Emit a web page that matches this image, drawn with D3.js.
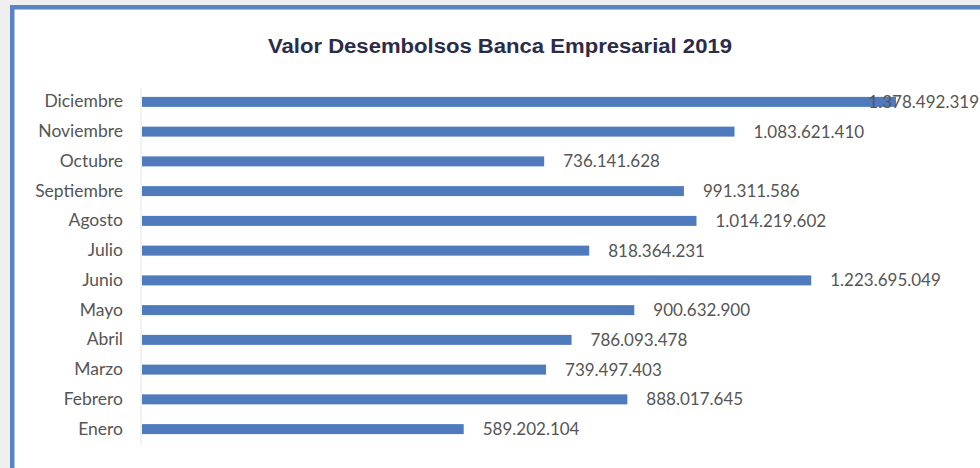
<!DOCTYPE html>
<html>
<head>
<meta charset="utf-8">
<script src="https://cdn.jsdelivr.net/npm/d3@7"></script>
<style>
  html, body { margin: 0; padding: 0; background: #efefef; }
  svg { display: block; }
</style>
</head>
<body>
<svg id="chart" width="980" height="468"></svg>
<script>
// Disbursements by month (COP), top row first as displayed
const months = ["Diciembre", "Noviembre", "Octubre", "Septiembre", "Agosto", "Julio",
                "Junio", "Mayo", "Abril", "Marzo", "Febrero", "Enero"];
const values = [1378492319, 1083621410, 736141628, 991311586, 1014219602, 818364231,
                1223695049, 900632900, 786093478, 739497403, 888017645, 589202104];
const title = "Valor Desembolsos Banca Empresarial 2019";

const W = 980, H = 468;
const svg = d3.select("#chart");

// panel with blue frame on left and top
svg.append("rect").attr("x", 12).attr("y", 7).attr("width", W - 12).attr("height", H - 7)
  .attr("fill", "#ffffff");
svg.append("rect").attr("x", 10).attr("y", 5).attr("width", W - 10).attr("height", 4.5)
  .attr("fill", "#5a83c3");
svg.append("rect").attr("x", 10).attr("y", 5).attr("width", 4.5).attr("height", H - 5)
  .attr("fill", "#5a83c3");

svg.append("text")
  .attr("x", 500).attr("y", 53)
  .attr("text-anchor", "middle")
  .attr("font-family", "Liberation Sans, Arial, sans-serif")
  .attr("font-weight", "bold")
  .attr("font-size", 20)
  .attr("textLength", 464)
  .attr("lengthAdjust", "spacingAndGlyphs")
  .attr("fill", "#2b2b4a")
  .text(title);

const data = months.map((m, i) => ({ month: m, value: values[i] }));

const x = d3.scaleLinear().domain([0, 1378492319]).range([141, 896]);
const y = d3.scaleBand().domain(months).range([87, 444]).paddingInner(0.66).paddingOuter(0.33);

// category axis
const yAxis = d3.axisLeft(y).tickSize(0).tickPadding(18);
const gy = svg.append("g").attr("transform", `translate(${x(0)},0)`).call(yAxis);
gy.select(".domain").attr("stroke", "#e6e6e6").attr("d", "M0,88V445");
gy.selectAll("text")
  .attr("font-family", "Lato, 'Open Sans', sans-serif")
  .attr("font-size", 17.5)
  .attr("fill", "#555555");

svg.append("g").selectAll("rect")
  .data(data).join("rect")
  .attr("x", x(0) + 1)
  .attr("y", d => y(d.month) + y.bandwidth() / 2 - 5)
  .attr("width", d => x(d.value) - x(0) - 1)
  .attr("height", 10)
  .attr("fill", "#4f7bbc");

const fmt = v => d3.format(",")(v).replace(/,/g, ".");
// labels that would run past the panel edge are pinned to the right edge
const overflows = d => x(d.value) + 19 + 115 > 979;

svg.append("g").selectAll("text")
  .data(data).join("text")
  .attr("x", d => overflows(d) ? 979 : x(d.value) + 19)
  .attr("text-anchor", d => overflows(d) ? "end" : "start")
  .attr("y", d => y(d.month) + y.bandwidth() / 2)
  .attr("dy", "0.36em")
  .attr("font-family", "Lato, 'Open Sans', sans-serif")
  .attr("font-size", 17)
  .attr("fill", "#555555")
  .text(d => fmt(d.value));
</script>
</body>
</html>
